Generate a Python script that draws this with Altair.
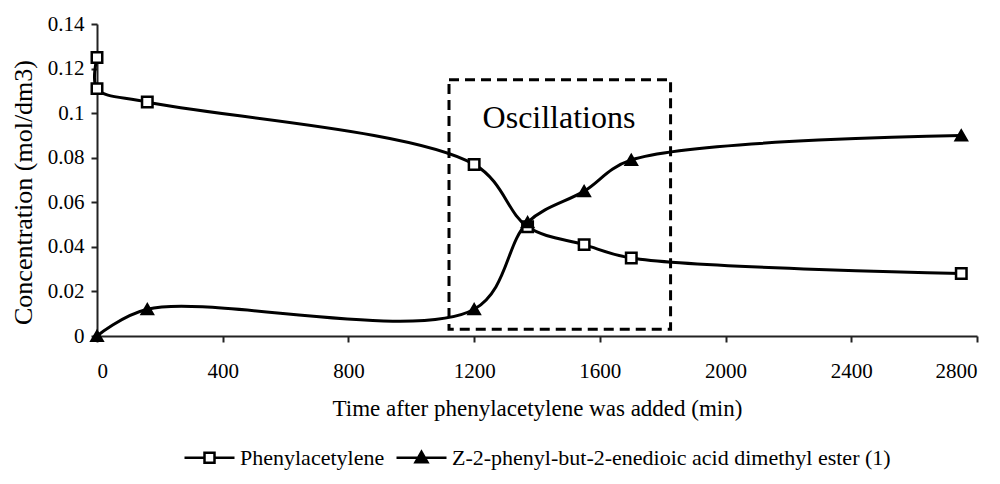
import altair as alt
import pandas as pd

# ---- data ----
series_names = ["Phenylacetylene", "Z-2-phenyl-but-2-enedioic acid dimethyl ester (1)"]

phen_time = [0, 0, 160, 1200, 1370, 1550, 1700, 2750]
phen_conc = [0.125, 0.111, 0.105, 0.077, 0.049, 0.041, 0.035, 0.028]

ester_time = [0, 160, 1200, 1370, 1550, 1700, 2750]
ester_conc = [0.0, 0.012, 0.012, 0.051, 0.065, 0.079, 0.090]

x_ticks = [0, 400, 800, 1200, 1600, 2000, 2400, 2800]
y_ticks = [0, 0.02, 0.04, 0.06, 0.08, 0.1, 0.12, 0.14]

box_time = [1120, 1825]
box_conc = [0.003, 0.115]
annot_label = "Oscillations"
annot_time = 1470
annot_conc = 0.098

# ---- tables ----
rows = []
for i, (t, c) in enumerate(zip(phen_time, phen_conc)):
    rows.append({"series": series_names[0], "time": t, "conc": c, "idx": i})
for i, (t, c) in enumerate(zip(ester_time, ester_conc)):
    rows.append({"series": series_names[1], "time": t, "conc": c, "idx": i})
df = pd.DataFrame(rows)

box_df = pd.DataFrame({"t1": [box_time[0]], "t2": [box_time[1]],
                       "c1": [box_conc[0]], "c2": [box_conc[1]]})
text_df = pd.DataFrame({"time": [annot_time], "conc": [annot_conc], "label": [annot_label]})

FONT = "Liberation Serif, 'Times New Roman', Times, 'DejaVu Serif', serif"

x_enc = alt.X("time:Q",
              scale=alt.Scale(domain=[0, 2800], nice=False, zero=False),
              axis=alt.Axis(values=x_ticks, title="Time after phenylacetylene was added (min)",
                            format="d", labelFontSize=21, labelPadding=18, tickSize=6,
                            titleFontSize=23, titlePadding=16))
y_enc = alt.Y("conc:Q",
              scale=alt.Scale(domain=[0, 0.14], nice=False),
              axis=alt.Axis(values=y_ticks, title="Concentration (mol/dm3)",
                            format="~g", labelFontSize=21, labelPadding=7, tickSize=6,
                            titleFontSize=26, titlePadding=11, titleY=168))

lines = alt.Chart(df).mark_line(interpolate="catmull-rom", strokeWidth=3, color="black").encode(
    x=x_enc, y=y_enc, detail="series:N", order="idx:Q")

points = alt.Chart(df).mark_point(stroke="black", strokeWidth=2.5, opacity=1, fillOpacity=1).encode(
    x="time:Q", y="conc:Q",
    shape=alt.Shape("series:N", scale=alt.Scale(domain=series_names, range=["square", "triangle-up"]), legend=None),
    fill=alt.Fill("series:N", scale=alt.Scale(domain=series_names, range=["white", "black"]), legend=None),
    size=alt.Size("series:N", scale=alt.Scale(domain=series_names, range=[110, 120]), legend=None),
)

sq_path = "M-1,0H-0.2M0.2,0H1M-0.2,-0.2H0.2V0.2H-0.2Z"
tri_path = "M-1,0H1M0,-0.24L0.24,0.18H-0.24Z"

leg = alt.Legend(title=None, orient="none", legendX=86, legendY=407,
                 direction="horizontal", symbolSize=2500, symbolStrokeWidth=2.5,
                 symbolStrokeColor="black", symbolOpacity=1,
                 labelFont=FONT, labelFontSize=22, labelColor="black",
                 labelOffset=4, columnPadding=6, labelLimit=700)

legend_layer = alt.Chart(df).transform_filter("datum.idx < 0").mark_point(
    strokeWidth=2.5, opacity=1).encode(
    x="time:Q", y="conc:Q",
    shape=alt.Shape("series:N", scale=alt.Scale(domain=series_names, range=[sq_path, tri_path]), legend=leg),
    fill=alt.Fill("series:N", scale=alt.Scale(domain=series_names, range=["white", "black"]), legend=leg),
    stroke=alt.Stroke("series:N", scale=alt.Scale(domain=series_names, range=["black", "black"]), legend=leg),
)

box = alt.Chart(box_df).mark_rect(fill="white", fillOpacity=0, stroke="black", strokeWidth=3,
                                  strokeDash=[10, 6]).encode(
    x="t1:Q", x2="t2:Q", y="c1:Q", y2="c2:Q")

label = alt.Chart(text_df).mark_text(font=FONT, fontSize=32, color="black",
                                     align="center", baseline="middle").encode(
    x="time:Q", y="conc:Q", text="label:N")

chart = alt.layer(box, lines, label, points, legend_layer).resolve_scale(
    shape="independent", fill="independent", size="independent", stroke="independent"
).properties(
    width=880, height=312,
    autosize=alt.AutoSizeParams(type="none"),
    padding={"left": 89, "top": 16, "right": 12, "bottom": 140},
).configure(font=FONT).configure_view(stroke=None).configure_axis(
    grid=False, domainColor="#222", domainWidth=2, tickColor="#222", tickWidth=2,
    labelColor="black", titleColor="black", labelFont=FONT, titleFont=FONT,
    titleFontWeight="normal"
).configure_legend(
    labelFont=FONT, labelFontSize=22, labelColor="black",
    symbolStrokeColor="black", symbolStrokeWidth=2.5
)

chart.save("out.html", embed_options={"renderer": "svg", "actions": False})
